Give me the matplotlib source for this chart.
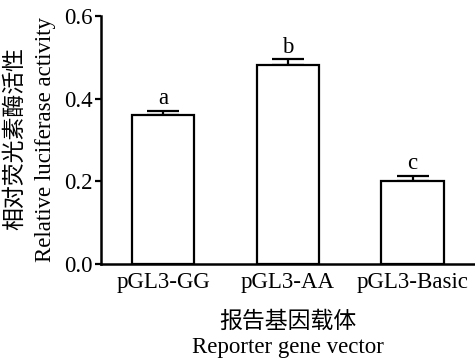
import numpy as np
import matplotlib
matplotlib.use('Agg')
import matplotlib.pyplot as plt

# dados
vetores = ['pGL3-GG', 'pGL3-AA', 'pGL3-Basic']
atividade = [0.361, 0.481, 0.200]
erro = [0.010, 0.015, 0.014]
letras = ['a', 'b', 'c']
yticks = [0.0, 0.2, 0.4, 0.6]

fonte = ['Liberation Serif', 'Noto Sans CJK SC']
plt.rcParams['font.family'] = fonte
plt.rcParams['font.size'] = 16.5

fig = plt.figure(figsize=(4.75, 3.59), dpi=100)
ax = fig.add_axes([0.2126, 0.2646, 0.7874, 0.6908])

x = np.arange(len(vetores))
ax.bar(x, atividade, width=0.5, color='white', edgecolor='black', linewidth=1.6, zorder=2)
ax.errorbar(x, atividade, yerr=[np.zeros(len(erro)), erro], fmt='none',
            ecolor='black', elinewidth=1.6, capsize=11.5, capthick=1.6, zorder=1)

for xi, v, e, l in zip(x, atividade, erro, letras):
    ax.text(xi, v + e + 0.015, l, ha='center', va='baseline', fontsize=16.5)

ax.set_xlim(-0.5, 2.5)
ax.set_ylim(0, 0.6)
ax.set_xticks(x)
ax.set_xticklabels(vetores)
ax.set_yticks(yticks)
ax.set_yticklabels(['%.1f' % t for t in yticks])
ax.tick_params(axis='x', length=0, pad=6)
ax.tick_params(axis='y', direction='out', length=4, width=1.6, pad=2)

for s in ['top', 'right']:
    ax.spines[s].set_visible(False)
for s in ['left', 'bottom']:
    ax.spines[s].set_linewidth(1.8)

# rotulos dos eixos
fig.text(15 / 475, 1 - 139 / 359, '相对荧光素酶活性', rotation=90, ha='center', va='center',
         fontsize=16.5, family=['Noto Sans CJK SC'])
fig.text(46 / 475, 1 - 140 / 359, 'Relative luciferase activity', rotation=90,
         ha='center', va='center', fontsize=16.5)
fig.text(288 / 475, 1 - 321 / 359, '报告基因载体', ha='center', va='center',
         fontsize=16.5, family=['Noto Sans CJK SC'])
fig.text(288 / 475, 1 - 347 / 359, 'Reporter gene vector', ha='center', va='center',
         fontsize=16.5)

fig.savefig('out.png', dpi=100)
